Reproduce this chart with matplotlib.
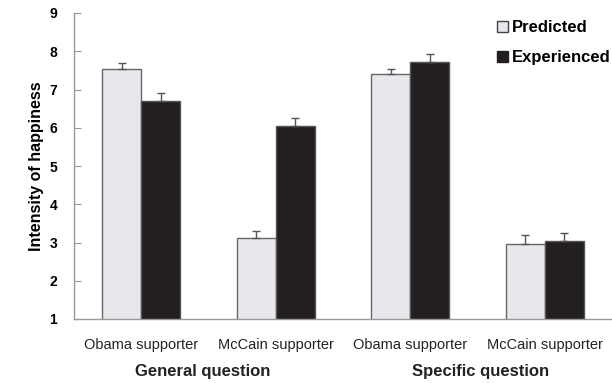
import numpy as np
import matplotlib
matplotlib.use("Agg")
import matplotlib.pyplot as plt
from matplotlib.patches import Patch

plt.rcParams['font.family'] = ['Liberation Sans', 'DejaVu Sans']

categories = ['Obama supporter', 'McCain supporter', 'Obama supporter', 'McCain supporter']
groups = ['General question', 'Specific question']
predicted = [7.54, 3.13, 7.41, 2.96]
predicted_err = [0.16, 0.18, 0.13, 0.23]
experienced = [6.71, 6.04, 7.71, 3.03]
experienced_err = [0.19, 0.21, 0.22, 0.23]

x = np.arange(len(categories))
w = 0.29

fig = plt.figure(figsize=(6.12, 3.83), dpi=100)
ax = fig.add_axes([74 / 612, 64 / 383, 538 / 612, 306 / 383])

err_kw = dict(ecolor='#555555', elinewidth=1.0, capsize=3, capthick=1.0)
ax.bar(x - w / 2, predicted, w, color='#e8e8ec', edgecolor='#666666',
       linewidth=1.0, yerr=[np.zeros(4), predicted_err], error_kw=err_kw, zorder=2)
ax.bar(x + w / 2, experienced, w, color='#231f20', edgecolor='#555555',
       linewidth=1.0, yerr=[np.zeros(4), experienced_err], error_kw=err_kw, zorder=2)

ax.set_xlim(-0.5, 3.5)
ax.set_ylim(1, 9)
ax.set_yticks(range(1, 10))
for lab in ax.get_yticklabels():
    lab.set_fontweight('bold')
ax.tick_params(axis='y', labelsize=10, length=5, direction='in', color='#999999', pad=12)
ax.set_xticks(x)
ax.set_xticklabels(categories, fontsize=10.5, color='#222222')
ax.tick_params(axis='x', length=0, pad=14)

for side in ['top', 'right']:
    ax.spines[side].set_visible(False)
for side in ['left', 'bottom']:
    ax.spines[side].set_color('#999999')
    ax.spines[side].set_linewidth(1.0)

ax.set_ylabel('Intensity of happiness', fontsize=11.5, fontweight='bold', labelpad=4)

# group captions sit under each pair of categories
group_x = [0.46, 2.52]
for gx, g in zip(group_x, groups):
    ax.text(gx, -0.173, g, transform=ax.get_xaxis_transform(),
            ha='center', va='center', fontsize=12, fontweight='bold', color='#222222')

handles = [Patch(facecolor='#e8e8ec', edgecolor='#444444', linewidth=1.0),
           Patch(facecolor='#231f20', edgecolor='#231f20')]
leg = ax.legend(handles, ['Predicted', 'Experienced'], loc='upper right',
                bbox_to_anchor=(1.025, 1.025), frameon=False, handlelength=0.7,
                handleheight=0.7, handletextpad=0.2, labelspacing=0.9,
                prop={'weight': 'bold', 'size': 12})

fig.savefig('out.png', dpi=100)
